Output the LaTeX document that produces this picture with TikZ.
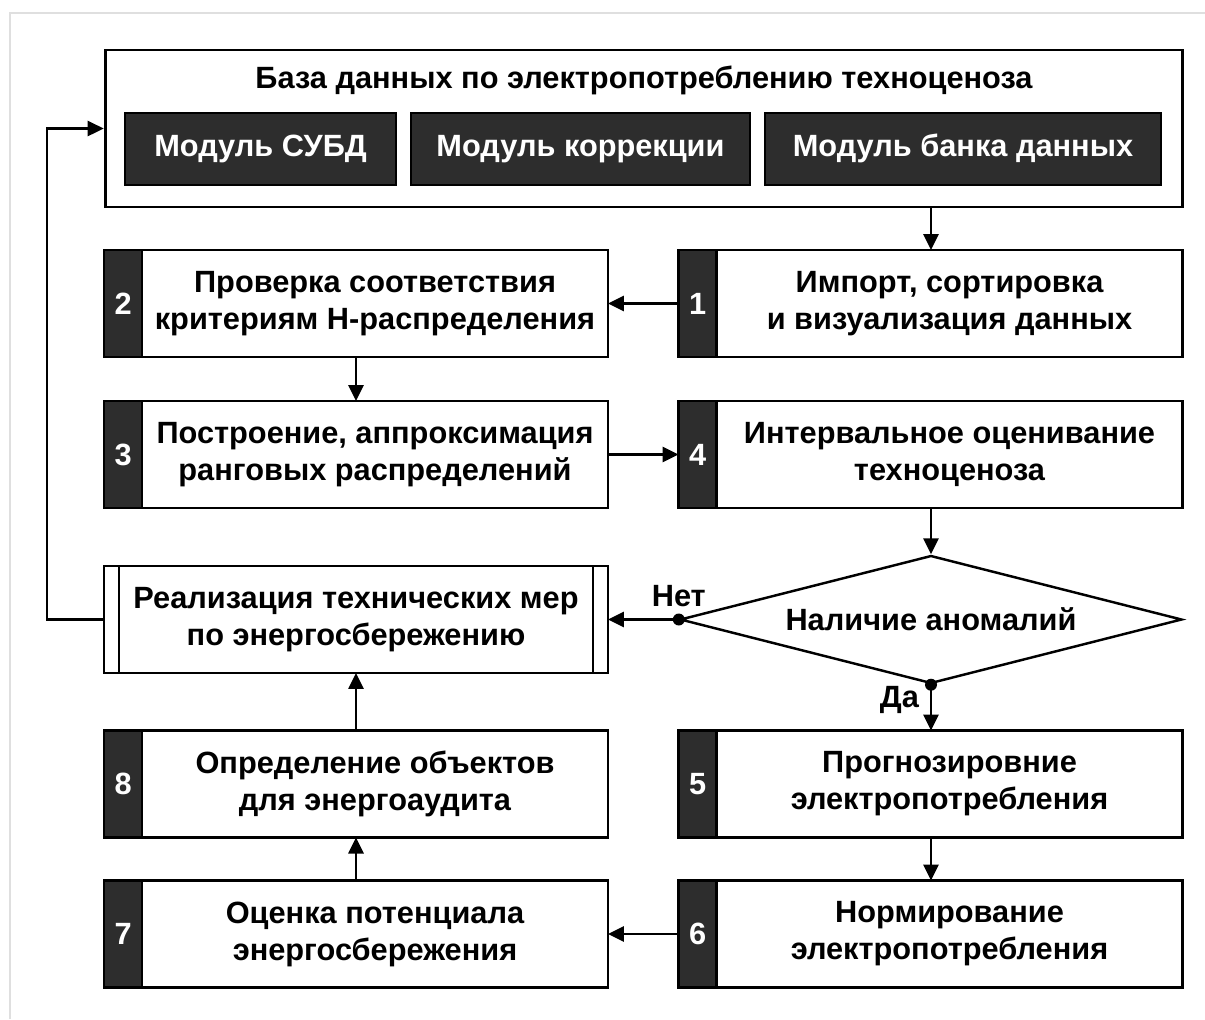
\documentclass[tikz,border=0pt]{standalone}
\usepackage{fontspec}
\setmainfont{Liberation Sans}
\usetikzlibrary{arrows.meta,shapes.geometric,positioning}

\definecolor{oscuro}{RGB}{45,45,45}
\tikzset{
  texto/.style={font=\fontsize{17.5}{21}\selectfont\bfseries},
  etiqueta/.style={texto, inner sep=1pt},
  bloque/.style={texto, draw, line width=1.6pt, fill=white, outer sep=0pt,
    minimum width=9.32cm, minimum height=2.14cm, align=center, inner sep=0pt},
  numero/.style={texto, draw, line width=1.6pt, fill=oscuro, text=white, outer sep=0pt,
    minimum width=0.76cm, minimum height=2.14cm, inner sep=0pt},
  modulo/.style={texto, draw, line width=0.8pt, fill=oscuro, text=white,
    text height=1.05em, text depth=0.25em, minimum height=1.44cm, inner sep=0pt},
  flecha/.style={line width=1.5pt, -{Triangle[length=0.32cm,width=0.3cm]}},
  punto/.style={circle, fill, inner sep=0pt, minimum size=0.24cm},
}

\begin{document}
\begin{tikzpicture}[x=0.02cm, y=-0.02cm]
        \useasboundingbox (0,0) rectangle (1205,1019);
        \draw[gray!25, line width=1.5pt] (10,1019) -- (10,13) -- (1205,13);

        % Paso 1: Base de datos con sus tres modulos
        \node[draw, line width=1.6pt, minimum width=21.56cm, minimum height=3.14cm] (BD) at (644,128.5) {};
        \node[texto] (T) at (644,80) {База данных по электропотреблению техноценоза};
        \node[modulo, minimum width=5.42cm] (M1) at (260.5,149) {Модуль СУБД};
        \node[modulo, minimum width=6.78cm] (M2) at (580.5,149) {Модуль коррекции};
        \node[modulo, minimum width=7.92cm] (M3) at (963,149) {Модуль банка данных};

        % Paso 2: Bloques numerados (cuerpo + pestaña)
        \node[bloque] (B1) at (949.5,303.5) {Импорт, сортировка\\и визуализация данных};
        \node[numero, left=0pt of B1] (N1) {1};
        \node[bloque] (B2) at (375,303.5) {Проверка соответствия\\критериям Н-распределения};
        \node[numero, left=0pt of B2] (N2) {2};
        \node[bloque] (B3) at (375,454.5) {Построение, аппроксимация\\ранговых распределений};
        \node[numero, left=0pt of B3] (N3) {3};
        \node[bloque] (B4) at (949.5,454.5) {Интервальное оценивание\\техноценоза};
        \node[numero, left=0pt of B4] (N4) {4};
        \node[bloque] (B5) at (949.5,784) {Прогнозировние\\электропотребления};
        \node[numero, left=0pt of B5] (N5) {5};
        \node[bloque] (B6) at (949.5,934) {Нормирование\\электропотребления};
        \node[numero, left=0pt of B6] (N6) {6};
        \node[bloque] (B7) at (375,934) {Оценка потенциала\\энергосбережения};
        \node[numero, left=0pt of B7] (N7) {7};
        \node[bloque] (B8) at (375,784) {Определение объектов\\для энергоаудита};
        \node[numero, left=0pt of B8] (N8) {8};

        % Paso 3: Proceso predefinido y decision
        \node[bloque, minimum width=10.08cm] (R) at (356,619.5) {Реализация технических мер\\по энергосбережению};
        \draw[line width=1.2pt] ([xshift=0.3cm]R.north west) -- ([xshift=0.3cm]R.south west);
        \draw[line width=1.2pt] ([xshift=-0.3cm]R.north east) -- ([xshift=-0.3cm]R.south east);
        \node[texto, diamond, draw, line width=1.4pt, shape aspect=3.9, inner sep=0pt,
              minimum width=10.04cm, minimum height=2.56cm] (D) at (931,619.5) {Наличие аномалий};

        % Paso 4: Conectores
        \draw[flecha] (BD.south -| D) -- (B1.north -| D);
        \draw[flecha] (N1.west) -- (B2.east);
        \draw[flecha] (B2.south -| R) -- (B3.north -| R);
        \draw[flecha] (B3.east) -- (N4.west);
        \draw[flecha] (B4.south -| D) -- (D.north);
        \draw[flecha] (D.west) -- (R.east);
        \draw[flecha] (D.south) -- (B5.north -| D);
        \draw[flecha] (B5.south -| D) -- (B6.north -| D);
        \draw[flecha] (N6.west) -- (B7.east);
        \draw[flecha] (B7.north -| R) -- (B8.south -| R);
        \draw[flecha] (B8.north -| R) -- (R.south);
        \coordinate (F) at (47,619.5);
        \draw[flecha] (R.west) -- (F) |- (BD.west);

        % Paso 5: Salidas de la decision
        \node[punto] (P1) at (D.west) {};
        \node[punto] (P2) at (D.south) {};
        \node[etiqueta, above=0.22cm of P1.center] (NO) {Нет};
        \node[etiqueta, below left=0pt and 0.2cm of P2.center] (SI) {Да};
\end{tikzpicture}
\end{document}
